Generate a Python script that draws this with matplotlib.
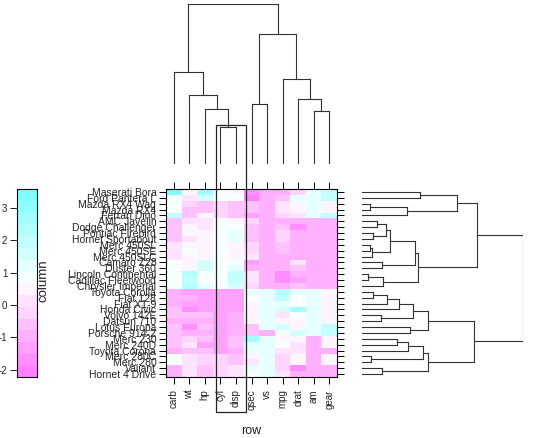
import numpy as np
import matplotlib
matplotlib.use('Agg')
import matplotlib.pyplot as plt
from matplotlib.colors import ListedColormap, BoundaryNorm
from matplotlib.patches import Rectangle

plt.rcParams['font.family'] = ['Liberation Sans', 'DejaVu Sans']
plt.rcParams['axes.unicode_minus'] = False

# mtcars, rows in data set order
cars = ['Mazda RX4', 'Mazda RX4 Wag', 'Datsun 710', 'Hornet 4 Drive', 'Hornet Sportabout',
        'Valiant', 'Duster 360', 'Merc 240D', 'Merc 230', 'Merc 280', 'Merc 280C',
        'Merc 450SE', 'Merc 450SL', 'Merc 450SLC', 'Cadillac Fleetwood', 'Lincoln Continental',
        'Chrysler Imperial', 'Fiat 128', 'Honda Civic', 'Toyota Corolla', 'Toyota Corona',
        'Dodge Challenger', 'AMC Javelin', 'Camaro Z28', 'Pontiac Firebird', 'Fiat X1-9',
        'Porsche 914-2', 'Lotus Europa', 'Ford Pantera L', 'Ferrari Dino', 'Maserati Bora',
        'Volvo 142E']
mpg = [21.0, 21.0, 22.8, 21.4, 18.7, 18.1, 14.3, 24.4, 22.8, 19.2, 17.8, 16.4, 17.3, 15.2, 10.4, 10.4,
       14.7, 32.4, 30.4, 33.9, 21.5, 15.5, 15.2, 13.3, 19.2, 27.3, 26.0, 30.4, 15.8, 19.7, 15.0, 21.4]
cyl = [6, 6, 4, 6, 8, 6, 8, 4, 4, 6, 6, 8, 8, 8, 8, 8, 8, 4, 4, 4, 4, 8, 8, 8, 8, 4, 4, 4, 8, 6, 8, 4]
disp = [160.0, 160.0, 108.0, 258.0, 360.0, 225.0, 360.0, 146.7, 140.8, 167.6, 167.6, 275.8, 275.8,
        275.8, 472.0, 460.0, 440.0, 78.7, 75.7, 71.1, 120.1, 318.0, 304.0, 350.0, 400.0, 79.0,
        120.3, 95.1, 351.0, 145.0, 301.0, 121.0]
hp = [110, 110, 93, 110, 175, 105, 245, 62, 95, 123, 123, 180, 180, 180, 205, 215, 230, 66, 52, 65,
      97, 150, 150, 245, 175, 66, 91, 113, 264, 175, 335, 109]
drat = [3.90, 3.90, 3.85, 3.08, 3.15, 2.76, 3.21, 3.69, 3.92, 3.92, 3.92, 3.07, 3.07, 3.07, 2.93, 3.00,
        3.23, 4.08, 4.93, 4.22, 3.70, 2.76, 3.15, 3.73, 3.08, 4.08, 4.43, 3.77, 4.22, 3.62, 3.54, 4.11]
wt = [2.620, 2.875, 2.320, 3.215, 3.440, 3.460, 3.570, 3.190, 3.150, 3.440, 3.440, 4.070, 3.730, 3.780,
      5.250, 5.424, 5.345, 2.200, 1.615, 1.835, 2.465, 3.520, 3.435, 3.840, 3.845, 1.935, 2.140,
      1.513, 3.170, 2.770, 3.570, 2.780]
qsec = [16.46, 17.02, 18.61, 19.44, 17.02, 20.22, 15.84, 20.00, 22.90, 18.30, 18.90, 17.40, 17.60,
        18.00, 17.98, 17.82, 17.42, 19.47, 18.52, 19.90, 20.01, 16.87, 17.30, 15.41, 17.05, 18.90,
        16.70, 16.90, 14.50, 15.50, 14.60, 18.60]
vs = [0, 0, 1, 1, 0, 1, 0, 1, 1, 1, 1, 0, 0, 0, 0, 0, 0, 1, 1, 1, 1, 0, 0, 0, 0, 1, 0, 1, 0, 0, 0, 1]
am = [1, 1, 1, 0, 0, 0, 0, 0, 0, 0, 0, 0, 0, 0, 0, 0, 0, 1, 1, 1, 0, 0, 0, 0, 0, 1, 1, 1, 1, 1, 1, 1]
gear = [4, 4, 4, 3, 3, 3, 3, 4, 4, 4, 4, 3, 3, 3, 3, 3, 3, 4, 4, 4, 3, 3, 3, 3, 3, 4, 5, 5, 5, 5, 5, 4]
carb = [4, 4, 1, 1, 2, 1, 4, 2, 2, 4, 4, 3, 3, 3, 4, 4, 4, 1, 2, 1, 1, 2, 2, 4, 2, 1, 2, 2, 4, 6, 8, 2]

columns = {'mpg': mpg, 'cyl': cyl, 'disp': disp, 'hp': hp, 'drat': drat, 'wt': wt,
           'qsec': qsec, 'vs': vs, 'am': am, 'gear': gear, 'carb': carb}

# order as it is shown in the picture
var_order = ['carb', 'wt', 'hp', 'cyl', 'disp', 'qsec', 'vs', 'mpg', 'drat', 'am', 'gear']
car_order_top = ['Maserati Bora', 'Ford Pantera L', 'Mazda RX4 Wag', 'Mazda RX4', 'Ferrari Dino',
                 'AMC Javelin', 'Dodge Challenger', 'Pontiac Firebird', 'Hornet Sportabout',
                 'Merc 450SL', 'Merc 450SE', 'Merc 450SLC', 'Camaro Z28', 'Duster 360',
                 'Lincoln Continental', 'Cadillac Fleetwood', 'Chrysler Imperial', 'Toyota Corolla',
                 'Fiat 128', 'Fiat X1-9', 'Honda Civic', 'Volvo 142E', 'Datsun 710', 'Lotus Europa',
                 'Porsche 914-2', 'Merc 230', 'Merc 240D', 'Toyota Corona', 'Merc 280C', 'Merc 280',
                 'Valiant', 'Hornet 4 Drive']

# dendrogrammer lest av bildet: (hoyde, venstre, hoyre)
var_tree = (10.7,
            (6.16, 'carb', (4.62, 'wt', (3.67, 'hp', (2.5, 'cyl', 'disp')))),
            (8.7, (4.0, 'qsec', 'vs'), (5.69, 'mpg', (4.33, 'drat', (3.56, 'am', 'gear')))))

car_g1 = (4.97, (3.03, 'Maserati Bora', 'Ford Pantera L'),
          (2.34, (0.41, 'Mazda RX4 Wag', 'Mazda RX4'), 'Ferrari Dino'))
car_g2 = (2.95,
          (2.77,
           (1.46,
            (1.25, (0.79, 'AMC Javelin', 'Dodge Challenger'), (0.58, 'Pontiac Firebird', 'Hornet Sportabout')),
            (0.53, (0.41, 'Merc 450SL', 'Merc 450SE'), 'Merc 450SLC')),
           (1.05, 'Camaro Z28', 'Duster 360')),
          (1.10, (0.32, 'Lincoln Continental', 'Cadillac Fleetwood'), 'Chrysler Imperial'))
car_g3 = (3.44,
          (2.65, (1.95, (1.28, (0.58, 'Toyota Corolla', 'Fiat 128'), 'Fiat X1-9'), 'Honda Civic'),
           (0.98, 'Volvo 142E', 'Datsun 710')),
          (2.51, 'Lotus Europa', 'Porsche 914-2'))
car_g4 = (3.44,
          (3.18, (2.39, (1.81, 'Merc 230', 'Merc 240D'), 'Toyota Corona'), (0.44, 'Merc 280C', 'Merc 280')),
          (1.02, 'Valiant', 'Hornet 4 Drive'))
car_tree = (8.47, (6.02, car_g1, car_g2), (5.9, car_g3, car_g4))


def draw_dendro(ax, node, leaf_pos, side):
    """ tegner et node rekursivt, gir (posisjon, hoyde) tilbake """
    if isinstance(node, str):
        return leaf_pos[node], 0.0
    h, left, right = node
    pa, ha = draw_dendro(ax, left, leaf_pos, side)
    pb, hb = draw_dendro(ax, right, leaf_pos, side)
    segs = [([ha, h], [pa, pa]), ([hb, h], [pb, pb]), ([h, h], [pa, pb])]
    for hs, ps in segs:
        if side == 'right':
            ax.plot(hs, ps, color='#333333', lw=0.8, solid_capstyle='projecting')
        else:
            ax.plot(ps, hs, color='#333333', lw=0.8, solid_capstyle='projecting')
    return (pa + pb) / 2, h


# scale(mtcars)
raw = np.array([columns[v] for v in columns], dtype=float).T
Z = (raw - raw.mean(0)) / raw.std(0, ddof=1)
names = list(columns)

car_bottom_up = car_order_top[::-1]
car_rows = [cars.index(c) for c in car_bottom_up]
var_cols = [names.index(v) for v in var_order]
M = Z[np.ix_(car_rows, var_cols)]

# lattice: at = do.breaks(extend.limits(range(z)), 16)
ext = 0.07 * (Z.max() - Z.min())
at = np.linspace(Z.min() - ext, Z.max() + ext, 17)


def rev_cm(j):
    # rev(cm.colors(100))[j]
    if j <= 50:
        return (1.0, 1 - (51 - j) / 100, 1.0)
    return (1 - (j - 50) / 100, 1.0, 1.0)


farger = [rev_cm(int(np.floor(1 + i * 99 / 15))) for i in range(16)]
cmap = ListedColormap(farger)
norm = BoundaryNorm(at, 16)

W, H = 540, 438
fig = plt.figure(figsize=(W / 100, H / 100), dpi=100)


def fpos(x0, y0, x1, y1):
    return [x0 / W, 1 - y1 / H, (x1 - x0) / W, (y1 - y0) / H]


# varmekart
ax = fig.add_axes(fpos(166, 189, 337, 377))
ax.pcolormesh(np.arange(12) - 0.5, np.arange(33) - 0.5, M, cmap=cmap, norm=norm)
ax.set_xlim(-0.5, 10.5)
ax.set_ylim(-0.5, 31.5)
ax.set_xticks(range(11))
ax.set_xticklabels(var_order, rotation=90, fontsize=7, color='#222222')
ax.set_yticks(range(32))
ax.set_yticklabels(car_bottom_up, fontsize=7.5, color='#222222')
ax.tick_params(direction='out', length=5, width=0.7, top=True, right=True, pad=2)
ax.tick_params(axis='x', pad=4)
for s in ax.spines.values():
    s.set_linewidth(0.8)

# fargeskala
cax = fig.add_axes(fpos(17, 189.3, 37, 377.3))
cax.pcolormesh([0, 1], at, np.array(at[:-1] + np.diff(at) / 2)[:, None], cmap=cmap, norm=norm)
cax.set_xlim(0, 1)
cax.set_ylim(at[0], at[-1])
cax.set_xticks([])
cax.set_yticks([-2, -1, 0, 1, 2, 3])
cax.tick_params(direction='out', length=5, width=0.7, labelsize=7, pad=2, colors='#222222')
for s in cax.spines.values():
    s.set_linewidth(0.8)

# dendrogram til hoyre (biler)
rax = fig.add_axes(fpos(362.3, 189, 523.3, 377))
draw_dendro(rax, car_tree, {c: i for i, c in enumerate(car_bottom_up)}, 'right')
rax.set_xlim(0, car_tree[0])
rax.set_ylim(-0.5, 31.5)
rax.axis('off')

# dendrogram over (variabler)
tax = fig.add_axes(fpos(166, 3.7, 337, 164))
draw_dendro(tax, var_tree, {v: i for i, v in enumerate(var_order)}, 'top')
tax.set_xlim(-0.5, 10.5)
tax.set_ylim(0, var_tree[0])
tax.axis('off')

# ramme rundt cyl og disp
fig.patches.append(Rectangle((216 / W, 1 - 412 / H), 29.5 / W, 287 / H, transform=fig.transFigure,
                             fill=False, edgecolor='#222222', lw=0.9))

fig.text(43.5 / W, 1 - 281 / H, 'column', rotation=90, ha='center', va='center', fontsize=9.5,
         color='#222222')
fig.text(251 / W, 1 - 431 / H, 'row', ha='center', va='center', fontsize=9, color='#222222')

fig.savefig('out.png', dpi=100)
